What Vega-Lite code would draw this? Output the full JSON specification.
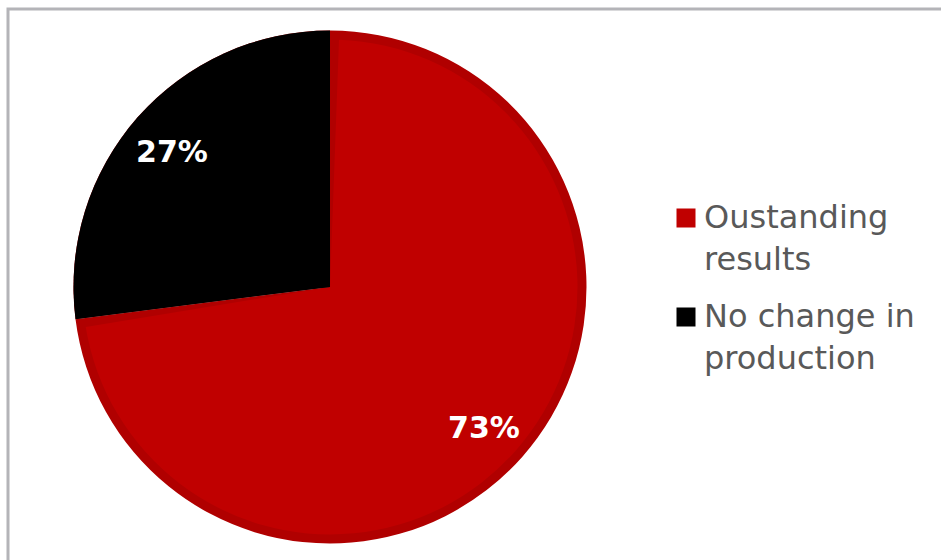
{
  "$schema": "https://vega.github.io/schema/vega-lite/v6.json",
  "width": 933,
  "height": 551,
  "padding": {"left": 8, "top": 9, "right": 0, "bottom": 0},
  "autosize": {"type": "none"},
  "view": {"stroke": "#b4b4b8", "strokeWidth": 3, "strokeDash": [933, 1484, 551]},
  "data": {
    "values": [
      {"cat": "Oustanding results", "value": 73, "label": "73%"},
      {"cat": "No change in production", "value": 27, "label": "27%"}
    ]
  },
  "encoding": {
    "theta": {"field": "value", "type": "quantitative", "stack": true},
    "order": {"field": "value", "type": "quantitative", "sort": "descending"}
  },
  "layer": [
    {
      "mark": {"type": "arc", "x": 322, "y": 278, "radius": 256.5, "fill": "#b00000"},
      "encoding": {"detail": {"field": "cat", "type": "nominal"}}
    },
    {
      "mark": {"type": "arc", "x": 322, "y": 278, "radius": 247.5, "padAngle": 0.0727},
      "encoding": {
        "color": {
          "field": "cat",
          "type": "nominal",
          "scale": {"domain": ["Oustanding results", "No change in production"], "range": ["#c00000", "#000000"]},
          "legend": {
            "title": null,
            "orient": "none",
            "legendX": 662,
            "legendY": 197,
            "padding": 0,
            "symbolType": "square",
            "symbolSize": 361,
            "symbolStrokeWidth": 0,
            "clipHeight": 24,
            "rowPadding": 25,
            "labelBaseline": "middle",
            "labelOffset": 2,
            "labelFont": "DejaVu Sans",
            "labelFontSize": 32,
            "labelColor": "#595959",
            "labelLimit": 400,
            "labelExpr": "datum.label == 'Oustanding results' ? ['Oustanding', 'results'] : ['No change in', 'production']"
          }
        }
      }
    },
    {
      "mark": {"type": "arc", "x": 322, "y": 278, "radius": 256.5, "fill": "#000000"},
      "encoding": {
        "detail": {"field": "cat", "type": "nominal"},
        "opacity": {"condition": {"test": "datum.cat == 'No change in production'", "value": 1}, "value": 0}
      }
    },
    {
      "mark": {"type": "text", "x": 322, "y": 278, "radius": 208, "dx": -2, "dy": 4, "font": "DejaVu Sans", "fontWeight": "bold", "fontSize": 30, "fill": "#ffffff", "baseline": "middle", "align": "center"},
      "encoding": {
        "detail": {"field": "cat", "type": "nominal"},
        "text": {"field": "label", "type": "nominal"}
      }
    }
  ],
  "config": {
    "view": {"stroke": "#b4b4b8", "strokeWidth": 3, "strokeDash": [933, 1484, 551]},
    "style": {"guide-label": {"lineHeight": 42}}
  }
}
